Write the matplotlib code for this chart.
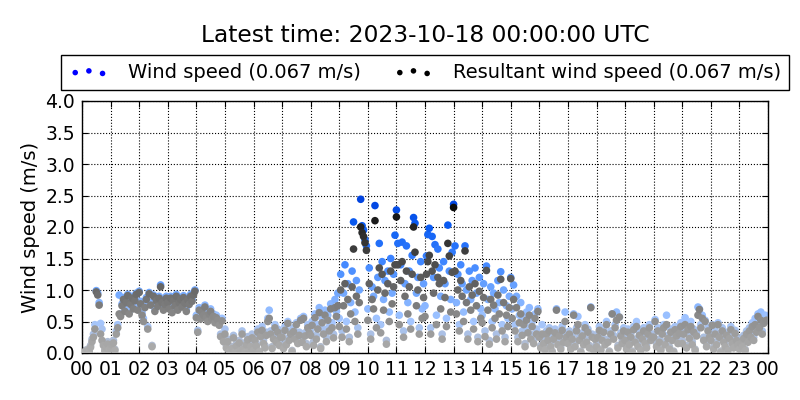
import numpy as np
import matplotlib
matplotlib.use("Agg")
import matplotlib.pyplot as plt
from matplotlib.colors import LinearSegmentedColormap

TITLE = "Latest time: 2023-10-18 00:00:00 UTC"
WS_LABEL = "Wind speed (0.067 m/s)"
RS_LABEL = "Resultant wind speed (0.067 m/s)"
HOUR_LABELS = [f"{h % 24:02d}" for h in range(25)]

# 3-minute samples, one row per hour (00 .. 23)
wind_speed = [
    0.02, 0.00, 0.04, 0.01, 0.06, 0.03, 0.12, 0.22, 0.30, 0.45, 0.99, 0.95, 0.80, 0.47, 0.38, 0.15, 0.05, 0.12, 0.18, 0.08,
    0.10, 0.16, 0.20, 0.06, 0.35, 0.45, 0.92, 0.62, 0.78, 0.88, 0.70, 0.84, 0.93, 0.66, 0.80, 0.90, 0.74, 0.86, 0.95, 0.72,
    0.98, 0.82, 0.64, 0.55, 0.75, 0.88, 0.42, 0.96, 0.80, 0.12, 0.92, 0.70, 0.86, 0.78, 0.90, 1.08, 0.84, 0.72, 0.80, 0.90,
    0.82, 0.74, 0.90, 0.68, 0.86, 0.78, 0.93, 0.72, 0.84, 0.88, 0.76, 0.91, 0.82, 0.70, 0.87, 0.80, 0.93, 0.85, 0.95, 1.00,
    0.60, 0.36, 0.72, 0.58, 0.68, 0.64, 0.76, 0.60, 0.55, 0.66, 0.70, 0.58, 0.62, 0.52, 0.60, 0.56, 0.48, 0.30, 0.55, 0.22,
    0.38, 0.12, 0.22, 0.03, 0.00, 0.10, 0.28, 0.04, 0.15, 0.02, 0.20, 0.06, 0.35, 0.10, 0.02, 0.18, 0.26, 0.05, 0.14, 0.30,
    0.06, 0.25, 0.15, 0.38, 0.03, 0.30, 0.42, 0.20, 0.12, 0.33, 0.55, 0.68, 0.35, 0.10, 0.28, 0.45, 0.22, 0.38, 0.16, 0.30,
    0.30, 0.10, 0.42, 0.18, 0.50, 0.25, 0.35, 0.04, 0.40, 0.28, 0.48, 0.20, 0.33, 0.55, 0.22, 0.58, 0.32, 0.15, 0.45, 0.38,
    0.35, 0.50, 0.18, 0.62, 0.28, 0.45, 0.72, 0.10, 0.55, 0.38, 0.68, 0.25, 0.60, 0.42, 0.78, 0.48, 0.30, 0.85, 0.66, 0.95,
    0.55, 1.25, 0.35, 0.95, 1.40, 0.50, 1.10, 0.25, 0.80, 1.30, 2.08, 0.65, 1.15, 0.40, 1.00, 2.44, 2.02, 1.95, 1.80, 1.70,
    0.70, 1.35, 0.30, 1.05, 0.90, 2.34, 0.55, 1.20, 1.74, 0.45, 1.45, 0.85, 1.15, 0.20, 1.30, 0.65, 1.50, 0.95, 1.25, 1.87,
    2.27, 1.74, 0.60, 1.40, 1.76, 0.35, 1.10, 1.70, 0.80, 1.30, 0.50, 1.55, 2.15, 2.06, 0.95, 1.20, 0.40, 1.45, 0.70, 1.10,
    0.75, 1.54, 1.88, 1.98, 0.40, 1.85, 1.20, 1.72, 0.60, 1.65, 1.35, 0.90, 0.30, 1.45, 1.10, 0.55, 2.03, 1.30, 0.85, 1.60,
    2.36, 1.70, 0.80, 1.25, 0.45, 1.40, 1.10, 0.65, 1.70, 1.00, 0.30, 1.30, 0.85, 1.15, 0.50, 1.35, 0.95, 0.25, 1.20, 0.70,
    0.60, 1.10, 0.35, 1.38, 0.85, 0.20, 1.05, 0.50, 0.95, 0.70, 0.30, 1.15, 0.80, 1.29, 0.45, 1.00, 0.25, 0.75, 0.55, 0.90,
    1.20, 0.70, 1.08, 0.45, 0.90, 0.25, 0.60, 0.80, 0.35, 0.55, 0.15, 0.65, 0.40, 0.72, 0.30, 0.50, 0.20, 0.62, 0.38, 0.70,
    0.30, 0.12, 0.45, 0.20, 0.08, 0.35, 0.25, 0.40, 0.15, 0.03, 0.28, 0.38, 0.70, 0.18, 0.32, 0.10, 0.42, 0.22, 0.65, 0.30,
    0.20, 0.35, 0.10, 0.28, 0.62, 0.15, 0.40, 0.58, 0.25, 0.03, 0.32, 0.18, 0.45, 0.22, 0.38, 0.12, 0.73, 0.30, 0.06, 0.27,
    0.15, 0.30, 0.42, 0.06, 0.25, 0.38, 0.18, 0.50, 0.22, 0.03, 0.35, 0.62, 0.28, 0.45, 0.65, 0.12, 0.57, 0.32, 0.20, 0.40,
    0.25, 0.10, 0.38, 0.18, 0.30, 0.03, 0.42, 0.22, 0.50, 0.15, 0.33, 0.06, 0.28, 0.40, 0.20, 0.12, 0.35, 0.45, 0.25, 0.30,
    0.30, 0.53, 0.15, 0.40, 0.22, 0.06, 0.35, 0.45, 0.18, 0.60, 0.28, 0.10, 0.38, 0.25, 0.03, 0.42, 0.32, 0.20, 0.36, 0.48,
    0.20, 0.35, 0.56, 0.12, 0.42, 0.28, 0.50, 0.18, 0.38, 0.06, 0.32, 0.73, 0.70, 0.45, 0.60, 0.25, 0.52, 0.15, 0.40, 0.30,
    0.25, 0.45, 0.10, 0.35, 0.18, 0.48, 0.30, 0.03, 0.40, 0.22, 0.15, 0.33, 0.06, 0.28, 0.42, 0.20, 0.12, 0.36, 0.25, 0.18,
    0.10, 0.20, 0.15, 0.28, 0.06, 0.35, 0.22, 0.40, 0.30, 0.48, 0.25, 0.55, 0.38, 0.62, 0.45, 0.65, 0.35, 0.52, 0.60, 0.58,
]

resultant_speed = [
    0.01, 0.00, 0.02, 0.00, 0.04, 0.02, 0.09, 0.18, 0.25, 0.38, 0.97, 0.92, 0.76, 0.30, 0.20, 0.12, 0.03, 0.09, 0.14, 0.05,
    0.08, 0.13, 0.16, 0.04, 0.30, 0.40, 0.62, 0.58, 0.75, 0.85, 0.66, 0.80, 0.91, 0.62, 0.77, 0.87, 0.70, 0.83, 0.93, 0.68,
    0.96, 0.78, 0.60, 0.50, 0.72, 0.85, 0.38, 0.94, 0.76, 0.10, 0.90, 0.66, 0.83, 0.74, 0.87, 1.05, 0.80, 0.68, 0.77, 0.87,
    0.80, 0.70, 0.87, 0.64, 0.83, 0.75, 0.90, 0.68, 0.80, 0.85, 0.73, 0.88, 0.79, 0.66, 0.84, 0.77, 0.90, 0.82, 0.92, 0.98,
    0.56, 0.33, 0.68, 0.54, 0.64, 0.60, 0.73, 0.56, 0.50, 0.62, 0.66, 0.54, 0.58, 0.48, 0.56, 0.52, 0.44, 0.26, 0.51, 0.18,
    0.30, 0.08, 0.18, 0.02, 0.00, 0.07, 0.24, 0.02, 0.11, 0.01, 0.16, 0.04, 0.30, 0.06, 0.01, 0.13, 0.21, 0.03, 0.10, 0.24,
    0.04, 0.20, 0.11, 0.33, 0.02, 0.26, 0.36, 0.15, 0.08, 0.28, 0.50, 0.55, 0.30, 0.07, 0.22, 0.40, 0.17, 0.33, 0.12, 0.25,
    0.25, 0.07, 0.36, 0.13, 0.47, 0.20, 0.30, 0.02, 0.34, 0.22, 0.45, 0.15, 0.28, 0.52, 0.17, 0.55, 0.27, 0.10, 0.40, 0.32,
    0.28, 0.44, 0.12, 0.56, 0.22, 0.38, 0.64, 0.07, 0.48, 0.30, 0.60, 0.18, 0.52, 0.35, 0.70, 0.40, 0.24, 0.72, 0.58, 0.75,
    0.42, 1.00, 0.25, 0.75, 1.10, 0.38, 0.85, 0.18, 0.62, 1.05, 1.65, 0.50, 0.90, 0.30, 0.80, 2.00, 1.91, 1.85, 1.75, 1.63,
    0.52, 1.10, 0.22, 0.85, 0.70, 2.10, 0.40, 1.00, 1.35, 0.32, 1.25, 0.68, 0.95, 0.14, 1.10, 0.50, 1.30, 0.78, 1.05, 1.40,
    2.16, 1.40, 0.45, 1.15, 1.45, 0.25, 0.90, 1.30, 0.62, 1.05, 0.38, 1.25, 2.00, 1.60, 0.75, 1.00, 0.30, 1.20, 0.55, 0.88,
    0.58, 1.25, 1.45, 1.55, 0.30, 1.30, 0.95, 1.40, 0.45, 1.20, 1.10, 0.70, 0.22, 1.15, 0.88, 0.42, 1.74, 1.54, 0.65, 1.28,
    2.31, 1.30, 0.62, 1.00, 0.35, 1.15, 0.90, 0.50, 1.62, 0.80, 0.22, 1.05, 0.68, 0.92, 0.38, 1.10, 0.75, 0.18, 0.98, 0.55,
    0.48, 0.88, 0.26, 1.31, 0.68, 0.14, 0.85, 0.40, 0.76, 0.55, 0.22, 0.92, 0.62, 1.17, 0.35, 0.80, 0.18, 0.60, 0.42, 0.72,
    1.18, 0.55, 0.85, 0.35, 0.72, 0.18, 0.48, 0.62, 0.28, 0.45, 0.10, 0.52, 0.32, 0.60, 0.22, 0.42, 0.15, 0.55, 0.30, 0.66,
    0.25, 0.08, 0.30, 0.15, 0.05, 0.30, 0.20, 0.35, 0.10, 0.01, 0.22, 0.32, 0.68, 0.13, 0.27, 0.06, 0.36, 0.17, 0.50, 0.25,
    0.15, 0.30, 0.06, 0.22, 0.60, 0.10, 0.35, 0.45, 0.20, 0.01, 0.27, 0.13, 0.40, 0.17, 0.33, 0.08, 0.72, 0.25, 0.04, 0.22,
    0.10, 0.25, 0.36, 0.04, 0.20, 0.33, 0.13, 0.45, 0.17, 0.01, 0.30, 0.62, 0.22, 0.40, 0.52, 0.08, 0.57, 0.27, 0.15, 0.35,
    0.20, 0.06, 0.33, 0.13, 0.25, 0.01, 0.37, 0.17, 0.42, 0.10, 0.28, 0.04, 0.22, 0.35, 0.15, 0.08, 0.30, 0.40, 0.20, 0.25,
    0.25, 0.50, 0.10, 0.35, 0.17, 0.04, 0.30, 0.40, 0.13, 0.45, 0.23, 0.06, 0.33, 0.20, 0.01, 0.37, 0.27, 0.15, 0.31, 0.42,
    0.15, 0.30, 0.45, 0.08, 0.37, 0.23, 0.42, 0.13, 0.33, 0.04, 0.27, 0.60, 0.69, 0.40, 0.55, 0.20, 0.50, 0.10, 0.35, 0.25,
    0.20, 0.44, 0.06, 0.30, 0.13, 0.45, 0.25, 0.01, 0.35, 0.17, 0.10, 0.28, 0.04, 0.23, 0.37, 0.15, 0.08, 0.31, 0.20, 0.13,
    0.06, 0.15, 0.10, 0.23, 0.04, 0.30, 0.17, 0.35, 0.25, 0.42, 0.20, 0.45, 0.33, 0.58, 0.40, 0.52, 0.30, 0.47, 0.50, 0.52,
]

hours = np.arange(len(wind_speed)) * 24.0 / len(wind_speed)

# colour grows with speed: grey -> blue, grey -> black
ws_cmap = LinearSegmentedColormap.from_list(
    "ws", [(0.0, "#b4b8c0"), (0.2, "#a4c6ff"), (0.4, "#6ea6ff"),
           (0.6, "#3a82ff"), (0.8, "#0a5cf2"), (1.0, "#0040dd")])
rs_cmap = LinearSegmentedColormap.from_list(
    "rs", [(0.0, "#b0b0b0"), (0.2, "#909090"), (0.4, "#686868"),
           (0.6, "#464646"), (0.8, "#242424"), (1.0, "#000000")])

plt.rcParams["font.family"] = "DejaVu Sans"
fig = plt.figure(figsize=(8, 4), dpi=100)
ax = fig.add_axes([0.1025, 0.1175, 0.8575, 0.63])

ax.scatter(hours, wind_speed, c=wind_speed, cmap=ws_cmap, vmin=0, vmax=2.5,
           s=30, linewidths=0, zorder=2)
ax.scatter(hours, resultant_speed, c=resultant_speed, cmap=rs_cmap, vmin=0, vmax=2.5,
           s=30, linewidths=0, zorder=3)

ax.set_xlim(0, 24)
ax.set_ylim(0, 4)
ax.set_xticks(range(25))
ax.set_xticklabels(HOUR_LABELS)
ax.set_yticks(np.arange(0, 4.01, 0.5))
ax.set_yticklabels([f"{v:.1f}" for v in np.arange(0, 4.01, 0.5)])
ax.tick_params(direction="in", top=True, right=True, length=4, labelsize=13.5, pad=5)
ax.grid(True, linestyle=":", color="k", linewidth=0.8)
ax.set_axisbelow(True)
ax.set_ylabel("Wind speed (m/s)", fontsize=14)
for sp in ax.spines.values():
    sp.set_linewidth(1.0)

h1 = ax.scatter([], [], c="#0000ff", s=16, linewidths=0)
h2 = ax.scatter([], [], c="#000000", s=16, linewidths=0)
leg = ax.legend([h1, h2], [WS_LABEL, RS_LABEL], loc="lower center",
                bbox_to_anchor=(0.5, 1.044), borderaxespad=0, ncol=2, fontsize=14.05,
                scatterpoints=3, scatteryoffsets=[0.375, 0.5, 0.3125],
                fancybox=False, framealpha=1, edgecolor="k",
                borderpad=0.42, columnspacing=1.7, handletextpad=1.0,
                handlelength=2.0)
leg.get_frame().set_linewidth(1.0)

fig.text(0.53125, 0.9125, TITLE, ha="center", va="center", fontsize=16.8)

fig.savefig("out.png", dpi=100)
